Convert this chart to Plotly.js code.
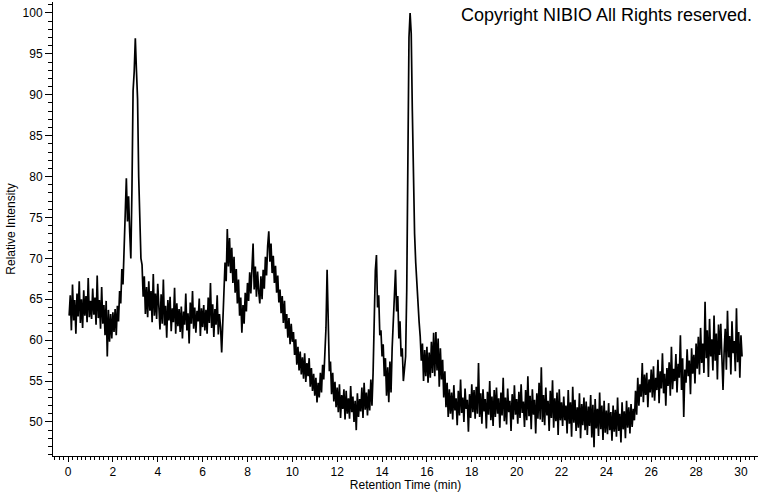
<!DOCTYPE html>
<html>
<head>
<meta charset="utf-8">
<script src="https://cdn.plot.ly/plotly-3.0.1.min.js"></script>
<style>html,body{margin:0;padding:0;background:#fff;}#chart{width:760px;height:492px;}</style>
</head>
<body>
<div id="chart"></div>
<script>
// Retention time sampling: starts at 0.05 min, one reading every 0.05 min
const startTime = 0.05;
const timeStep = 0.05;

// Relative intensity readings (one row per minute, 20 readings each)
const intensity = [
  63.0,65.5,61.2,66.8,62.4,64.9,60.8,65.7,62.9,67.2,62.1,65.0,61.5,66.1,63.0,65.4,62.2,67.6,62.8,64.8,
  62.6,66.3,63.1,65.2,61.9,67.9,62.7,64.9,61.4,66.5,62.0,64.3,60.6,64.8,58.0,63.7,59.8,63.2,60.2,63.4,
  61.0,63.8,60.6,64.2,62.3,66.0,64.5,68.7,66.8,71.5,74.0,79.8,74.5,77.6,73.2,70.0,78.5,90.5,92.8,96.9,
  93.0,89.5,80.0,74.7,70.0,69.2,65.3,67.8,63.2,66.5,62.8,67.2,63.6,66.0,62.2,68.1,63.0,65.7,62.6,66.9,
  64.8,61.3,65.6,62.0,67.4,61.8,64.2,60.3,64.9,62.4,65.3,61.1,63.9,62.2,66.4,60.8,64.5,61.7,63.8,61.0,
  64.1,60.2,63.5,61.9,65.7,61.2,63.3,59.6,64.6,62.0,66.0,61.4,64.0,60.9,63.6,62.3,65.1,60.5,63.9,61.6,
  64.3,61.2,63.7,60.8,65.2,62.1,67.0,61.5,64.4,60.4,63.8,61.9,65.5,60.7,63.2,61.6,58.5,62.8,66.0,69.5,
  67.2,73.6,69.0,72.5,68.2,71.3,67.0,70.2,65.8,68.7,64.5,67.4,63.0,65.2,60.9,64.3,62.0,65.8,63.5,67.0,
  64.8,68.3,65.7,69.5,71.8,66.2,69.0,65.3,68.4,66.0,64.5,67.8,65.0,68.6,66.3,70.2,67.9,71.5,73.3,69.6,
  71.8,68.2,70.3,67.0,69.1,65.8,67.9,64.6,66.2,63.3,65.4,62.1,64.8,61.4,63.2,60.3,62.7,59.5,62.0,59.8,
  61.0,58.2,60.1,57.0,59.2,56.3,58.6,55.8,57.9,55.3,58.4,54.9,57.2,55.6,57.8,54.3,56.6,53.8,55.9,53.2,
  55.4,52.4,54.8,53.0,56.0,53.6,57.0,55.2,57.8,61.5,68.6,60.3,56.2,57.4,53.4,56.0,52.5,54.9,51.8,54.2,
  51.2,54.6,50.5,53.3,51.6,54.0,50.3,53.8,51.0,52.9,50.4,54.4,51.2,53.1,50.0,52.6,49.0,53.5,50.6,52.8,
  51.3,54.2,50.5,54.8,51.5,53.6,50.8,54.0,51.4,55.2,52.0,56.0,62.0,68.5,70.4,64.0,65.5,60.6,61.2,58.0,
  59.5,55.6,57.8,53.2,56.7,52.4,57.4,53.6,59.0,61.8,66.2,68.6,63.5,65.4,60.2,62.3,58.0,59.0,55.0,57.2,
  58.0,66.0,85.0,97.0,100.0,97.5,88.0,77.5,73.0,69.5,66.5,64.0,62.3,60.5,57.5,59.6,55.0,58.8,55.6,59.2,
  54.8,58.5,55.4,59.8,56.0,60.9,55.6,61.0,56.3,60.2,54.3,59.0,55.2,57.6,53.0,56.2,51.8,54.8,50.6,54.0,
  51.0,53.6,50.3,54.5,51.4,52.9,49.6,53.8,50.8,55.2,51.1,53.0,50.0,54.1,51.6,52.7,48.8,53.4,50.5,54.6,
  51.2,53.9,50.4,54.3,51.0,57.2,50.6,53.5,49.8,54.0,51.3,52.8,49.2,53.7,50.9,55.0,50.2,53.1,49.5,53.9,
  50.6,54.2,51.0,52.9,49.3,53.6,50.8,55.4,50.1,53.0,49.7,54.1,51.2,52.6,48.9,53.4,50.3,54.5,50.9,52.8,
  49.8,53.7,50.5,54.6,51.1,52.5,49.4,53.9,50.2,55.6,50.7,53.2,49.1,54.0,50.9,52.7,48.6,53.5,50.4,54.8,
  50.3,56.7,50.0,53.3,49.6,54.2,50.8,52.6,48.9,53.8,50.5,55.1,49.3,52.9,50.1,53.6,48.4,54.0,50.2,52.4,
  49.5,53.1,50.2,52.0,48.6,53.9,49.8,52.4,48.2,54.3,49.9,52.7,48.9,51.8,49.3,53.5,48.0,52.2,49.6,53.0,
  49.0,52.5,48.4,51.9,49.5,53.3,48.1,52.1,46.9,52.8,49.2,51.6,48.3,53.6,49.1,52.0,47.8,52.6,48.7,51.4,
  48.5,52.3,49.0,51.2,47.7,52.0,48.8,51.5,48.2,53.0,48.9,51.0,47.5,52.4,49.1,51.3,48.0,52.6,49.3,51.8,
  48.6,52.2,49.4,51.6,50.2,53.8,50.9,55.4,52.0,54.6,53.1,57.2,52.4,55.8,53.3,56.0,51.8,55.2,53.6,56.4,
  53.0,56.8,52.6,55.4,53.9,57.6,52.3,56.2,54.1,58.4,53.5,55.9,52.0,56.6,54.4,57.3,53.2,59.2,54.0,56.5,
  55.0,58.3,53.6,57.1,55.4,60.6,53.9,57.8,50.6,56.4,54.8,58.9,55.6,57.5,53.4,59.0,55.9,58.2,54.7,59.6,
  56.5,60.4,55.8,61.5,57.2,59.6,56.0,64.7,57.8,61.2,55.5,62.6,58.0,60.1,56.3,63.0,57.5,60.8,55.2,61.9,
  58.2,62.0,56.9,53.9,58.6,61.4,56.4,63.6,57.9,60.5,55.8,62.3,58.4,59.9,56.2,63.9,57.3,61.0,55.4,60.6,
  58.0
];

// Axis tick labels
const xTickValues = [0,2,4,6,8,10,12,14,16,18,20,22,24,26,28,30];
const yTickValues = [50,55,60,65,70,75,80,85,90,95,100];

const xTitle = "Retention Time (min)";
const yTitle = "Relative Intensity";
const copyrightText = "Copyright NIBIO All Rights reserved.";

const retentionTime = intensity.map((_, i) => +(startTime + i * timeStep).toFixed(2));

const FONT = "Arial, 'Liberation Sans', sans-serif";

const trace = {
  x: retentionTime,
  y: intensity,
  type: "scatter",
  mode: "lines",
  line: {color: "#000000", width: 1.7},
  hoverinfo: "x+y"
};

const layout = {
  width: 760,
  height: 492,
  margin: {l: 53, r: 2, t: 2, b: 36},
  paper_bgcolor: "#ffffff",
  plot_bgcolor: "#ffffff",
  showlegend: false,
  font: {family: FONT, size: 12, color: "#000"},
  xaxis: {
    range: [-0.67, 30.76],
    tickmode: "array",
    tickvals: xTickValues,
    ticktext: xTickValues.map(String),
    ticks: "outside",
    ticklen: 5,
    tickwidth: 1,
    tickcolor: "#000",
    showline: true,
    linecolor: "#000",
    linewidth: 1,
    showgrid: false,
    zeroline: false,
    tickfont: {family: FONT, size: 12, color: "#000"},
    minor: {dtick: 0.2, tick0: 0, ticks: "outside", ticklen: 3, tickcolor: "#000", showgrid: false},
    title: {text: xTitle, font: {family: FONT, size: 12, color: "#000"}, standoff: 0}
  },
  yaxis: {
    range: [45.84, 101.34],
    tickmode: "array",
    tickvals: yTickValues,
    ticktext: yTickValues.map(String),
    ticks: "outside",
    ticklen: 7,
    tickwidth: 1,
    tickcolor: "#000",
    showline: true,
    linecolor: "#000",
    linewidth: 1,
    showgrid: false,
    zeroline: false,
    tickfont: {family: FONT, size: 12, color: "#000"},
    minor: {dtick: 1, tick0: 0, ticks: "outside", ticklen: 4, tickcolor: "#000", showgrid: false},
    title: {text: yTitle, font: {family: FONT, size: 12, color: "#000"}, standoff: 4}
  },
  annotations: [{
    text: copyrightText,
    xref: "paper", yref: "paper",
    x: 1, y: 1,
    xanchor: "right", yanchor: "top",
    xshift: -4, yshift: -1,
    showarrow: false,
    font: {family: FONT, size: 18, color: "#000"}
  }]
};

Plotly.newPlot("chart", [trace], layout, {displayModeBar: false, staticPlot: true});
</script>
</body>
</html>
